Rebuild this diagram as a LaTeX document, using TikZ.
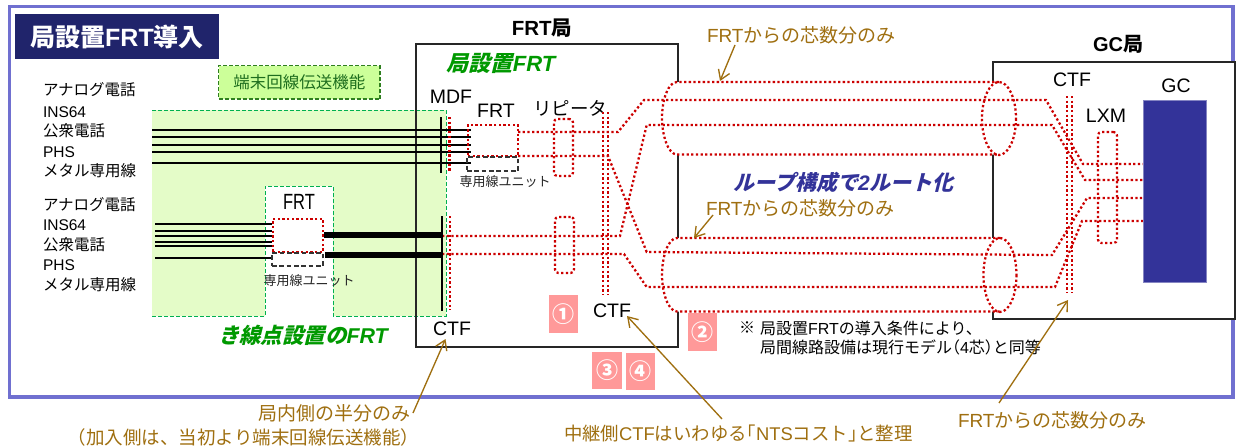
\documentclass[tikz,border=0pt]{standalone}
\usepackage{fontspec}
\usepackage{graphicx}
\usetikzlibrary{arrows.meta,fit}
\setmainfont{Noto Sans CJK JP}
\newfontfamily\latfont{Liberation Sans}
\newfontfamily\cjksl[FakeSlant=0.25,BoldFeatures={FakeSlant=0.25}]{Noto Sans CJK JP}
\newcommand\lat[1]{{\latfont #1}}
\newcommand\px[1]{\fontsize{\fpeval{#1*0.75}pt}{\fpeval{#1*0.9}pt}\selectfont}
\newcommand\lb{\kern-.5em}
\definecolor{frameblue}{HTML}{7070D0}
\definecolor{navy}{HTML}{20246B}
\definecolor{gcblue}{HTML}{333399}
\definecolor{areagreen}{HTML}{E4FCC8}
\definecolor{tagfill}{HTML}{CCFF99}
\definecolor{tagline}{HTML}{2F7F1F}
\definecolor{dashgreen}{HTML}{00B050}
\definecolor{txtgreen}{HTML}{009900}
\definecolor{tagtxt}{HTML}{1E6E1E}
\definecolor{brown}{HTML}{9F6F10}
\definecolor{reddot}{HTML}{CC0000}
\definecolor{pinkbox}{HTML}{FF9999}
\tikzset{
 txt/.style={inner sep=0pt,outer sep=0pt,text=black},
 lab/.style={txt,anchor=west,font=\px{15.5}},
 big/.style={txt,font=\px{19.5}},
 note/.style={txt,anchor=west,font=\px{16}},
 brn/.style={txt,text=brown,font=\px{19}},
 unit/.style={txt,text=black!85,font=\px{13}},
 blk/.style={draw=black,line width=1.6pt},
 fatblk/.style={draw=black,line width=3.9pt},
 rdot/.style={draw=reddot,line width=1.7pt,dash pattern=on 1.7pt off 1.8pt},
 rbox/.style={rdot,rounded corners=2.5pt,inner sep=0pt,outer sep=0pt},
 dbox/.style={draw=black!80,line width=.8pt,dash pattern=on 3.5pt off 2pt,inner sep=0pt,outer sep=0pt},
 station/.style={draw=black!85,line width=1.1pt,fill=white,inner sep=0pt,outer sep=0pt},
 num/.style={fill=pinkbox,text=white,inner sep=0pt,outer sep=0pt,font=\bfseries\px{23},align=center},
 callout/.style={draw=brown,line width=1pt,-{Straight Barb[length=7pt,width=9pt,line width=1pt]}},
}
\begin{document}
\begin{tikzpicture}[x=0.75pt,y=-0.75pt]
\useasboundingbox (0,0) rectangle (1242,446);
\fill[white] (0,0) rectangle (1242,446);
\draw[frameblue,line width=2.4pt] (9.5,6.5) rectangle (1233,397);
% title
\node[fill=navy,inner sep=0pt,fit={(15,14)(219,59)}] (titlebox) {};
\node[txt,text=white,font=\bfseries\px{25}] (title) at (titlebox.center) {局設置\lat{FRT}導入};
% stations
\node[station,fit={(416,44)(678,347)}] (frtst) {};
\node[station,fit={(993,62)(1235,319)}] (gcst) {};
\node[txt,font=\bfseries\px{20.5}] (frtsttxt) at (542,28) {\lat{FRT}局};
\node[txt,font=\bfseries\px{20}] (gcsttxt) at (1118,44) {\lat{GC}局};
% green area
\fill[areagreen] (152,110) -- (446,110) -- (446,316) -- (333,316) -- (333,186) -- (265,186) -- (265,316) -- (152,316) -- cycle;
\draw[dashgreen,line width=.7pt,dash pattern=on 3pt off 1.5pt] (152,110) -- (446,110) -- (446,316) -- (333,316) -- (333,186) -- (265,186) -- (265,316) -- (152,316);
\draw[black!85,line width=1.1pt] (416,44) -- (416,347);
\node[fill=tagfill,draw=tagline,line width=1pt,dash pattern=on 3pt off 1.5pt,inner sep=0pt,fit={(218.5,65.5)(380,99)}] (tag) {};
\node[txt,text=tagtxt,font=\px{16.5}] (tagtxt) at (tag.center) {端末回線伝送機能};
% left labels
\foreach \n/\y/\t in {a/90/アナログ電話,b/112/\lat{INS64},c/131/公衆電話,d/152/\lat{PHS},e/171/メタル専用線,f/205/アナログ電話,g/225/\lat{INS64},h/245/公衆電話,i/265/\lat{PHS},j/285/メタル専用線}
  {\node[lab] (lab\n) at (43,\y) {\t};}
% cables: envelopes
\path[fill=white] (677,82) -- (999,82) -- (999,154.5) -- (677,154.5) .. controls (668,154.5) and (662,135) .. (662,118) .. controls (662,100) and (668,82) .. (677,82) -- cycle;
\path[fill=white] (677,238) -- (1000,238) -- (1000,311.5) -- (677,311.5) .. controls (668,311.5) and (662,292) .. (662,275) .. controls (662,257) and (668,238) .. (677,238) -- cycle;
\draw[rdot] (999,82) -- (677,82) .. controls (668,82) and (662,100) .. (662,118) .. controls (662,135) and (668,154.5) .. (677,154.5) -- (999,154.5);
\draw[rdot] (1000,238) -- (677,238) .. controls (668,238) and (662,257) .. (662,275) .. controls (662,292) and (668,311.5) .. (677,311.5) -- (1000,311.5);
\draw[rdot] (999,118.5) ellipse (17 and 36.5);
\draw[rdot] (1000,275) ellipse (16.5 and 37);
% black lines, office FRT
\foreach \y in {130,137,145,152,163} {\draw[blk] (152,\y) -- (471,\y);}
\draw[black,line width=1.9pt] (441,117) -- (441,173);
\draw[rdot] (449.5,117) -- (449.5,172);
\node[rbox,rounded corners=0pt,fit={(468,125)(518,156)}] (frta) {};
\node[dbox,fit={(467,157)(518,171)}] (unita) {};
\node[big] (frtatxt) at (496,111) {\lat{FRT}};
\node[big] (mdf) at (451,97) {\lat{MDF}};
\node[txt,font=\px{18.5}] (rep) at (570,108) {リピータ};
\node[unit] (unitatxt) at (505,182) {専用線ユニット};
\node[rbox,fit={(554,119)(573,176)}] (repa) {};
\node[rbox,fit={(555,217)(574,273)}] (repb) {};
% CTF relay
\coordinate (ctfat) at (603,112); \coordinate (ctfab) at (603,295);
\coordinate (ctfbt) at (608,112); \coordinate (ctfbb) at (608,295);
\draw[rdot] (ctfat) -- (ctfab);
\draw[rdot] (ctfbt) -- (ctfbb);
% routes
\draw[rdot] (frta.east |- 0,132) -- (618,132) -- (644,100) -- (1046,100) -- (1083,164) -- (1143,164);
\draw[rdot] (frta.east |- 0,156) -- (608,156) -- (646.7,252) -- (1052,255) -- (1087,198) -- (1143,198);
\draw[rdot] (442,236) -- (620,236) -- (646.7,125) -- (1052,125) -- (1085,180) -- (1143,180);
\draw[rdot] (442,254) -- (624,254) -- (646.7,287) -- (1055,287) -- (1082,221) -- (1143,221);
% lower-left FRT
\foreach \y in {224,231,236,242,246,258} {\draw[blk] (155,\y) -- (272,\y);}
\node[rbox,rounded corners=0pt,fit={(273,219)(323,252)}] (frtb) {};
\node[dbox,fit={(272,253)(323,266)}] (unitb) {};
\node[txt,font=\px{22}] (frtbtxt) at (299,202) {\scalebox{.75}[1]{\lat{FRT}}};
\node[unit] (unitbtxt) at (309,281) {専用線ユニット};
\draw[fatblk] (324,235) -- (442,235);
\draw[fatblk] (325,255) -- (442,255);
\draw[black,line width=1.9pt] (442,216) -- (442,311);
\draw[rdot] (450,216) -- (450,310);
% GC office
\coordinate (cta) at (1067,96); \coordinate (ctb) at (1067,293);
\coordinate (ctc) at (1072,96); \coordinate (ctd) at (1072,293);
\draw[rdot] (cta) -- (ctb);
\draw[rdot] (ctc) -- (ctd);
\node[rbox,fit={(1098,132)(1117,243)}] (lxm) {};
\node[fill=gcblue,draw=gcblue!60,line width=.5pt,inner sep=0pt,fit={(1143,100)(1206,282)}] (gc) {};
\node[big] (ctfg) at (1072,80) {\lat{CTF}};
\node[big] (lxmt) at (1106,116) {\lat{LXM}};
\node[big] (gct) at (1176,86) {\lat{GC}};
% CTF labels
\node[big] (ctfl) at (452,329) {\lat{CTF}};
\node[big] (ctfm) at (612,311) {\lat{CTF}};
% emphasised text
\node[txt,text=txtgreen,font=\bfseries\px{22}] (lbla) at (501,63) {\cjksl 局設置\lat{\itshape FRT}};
\node[txt,text=txtgreen,font=\bfseries\px{21.4}] (lblb) at (303,335) {\cjksl き線点設置の\lat{\itshape FRT}};
\node[txt,text=gcblue,font=\bfseries\px{21}] (lblc) at (843.5,182) {\cjksl ループ構成で\lat{\itshape 2}ルート化};
% numbers
\node[num,fit={(549,295)(578,333)}] (n1box) {};
\node[num,fit={(688,313)(717,351)}] (n2box) {};
\node[num,fit={(592,352)(622,389)}] (n3box) {};
\node[num,fit={(626,353)(655,390)}] (n4box) {};
\foreach \b/\t in {n1box/①,n2box/②,n3box/③,n4box/④}
  {\node[txt,text=white,font=\bfseries\px{22}] at (\b.center) {\t};}
% note
\node[note] (nmark) at (739,328) {※};
\node[note] (noteone) at (760,328) {局設置\lat{FRT}の導入条件により、};
\node[note] (notetwo) at (760,347) {局間線路設備は現行モデル\lb（\lat{4}芯）\lb と同等};
% brown callouts
\node[brn,anchor=west] (fa) at (707,35) {\lat{FRT}からの芯数分のみ};
\node[brn,anchor=west] (fb) at (706,208) {\lat{FRT}からの芯数分のみ};
\node[brn,anchor=west] (fc) at (958,420) {\lat{FRT}からの芯数分のみ};
\node[brn,anchor=east] (ka) at (410,413) {局内側の半分のみ};
\node[brn,anchor=east,font=\px{18.5}] (kb) at (419,437) {（加入側は、当初より端末回線伝送機能）};
\node[brn,anchor=west,font=\px{18.4}] (ch) at (564,434) {中継側\lat{CTF}はいわゆる\lb「\lat{NTS}コスト」\lb と整理};
\coordinate (ea) at (720,81);
\coordinate (eb) at (694,238);
\coordinate (ec) at (1068,300);
\coordinate (ed) at (445.5,339);
\coordinate (ee) at (627,316);
\draw[callout] (735,45) -- (ea);
\draw[callout] (713,215) -- (eb);
\draw[callout] (999,403) -- (ec);
\draw[callout] (413,413) -- (ed);
\draw[callout] (722,419) -- (ee);
\end{tikzpicture}
\end{document}
